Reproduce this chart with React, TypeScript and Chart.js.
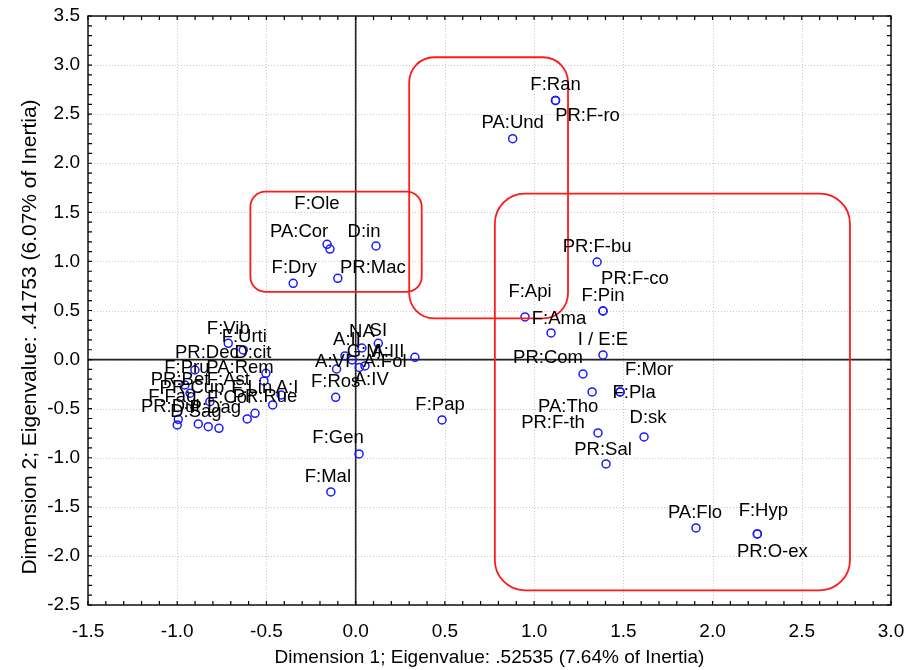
import React, { useEffect, useRef } from "react";
import { Chart, registerables } from "chart.js";

Chart.register(...registerables);

// ---- data ----
const POINT_NAMES = [
  "F:Ran", "PR:F-ro", "PA:Und",
  "PA:Cor", "F:Ole", "D:in", "F:Dry", "PR:Mac",
  "PR:F-bu", "F:Pin", "PR:F-co", "F:Api", "F:Ama", "I / E:E", "PR:Com",
  "PA:Tho", "F:Mor", "F:Pla", "PR:F-th", "D:sk", "PR:Sal",
  "PA:Flo", "F:Hyp", "PR:O-ex",
  "F:Pap", "F:Gen", "F:Mal", "F:Ros",
  "A:IV", "A:VI", "A:Fol", "SI", "NA", "A:II", "G:M", "A:III",
  "F:Vib", "F:Urti", "PR:Dec", "D:cit", "F:Pru", "PA:Rem", "PR:Bet", "F:Lin", "A:I",
  "PR:Rue", "F:Fag", "PR:Dul", "P:Dag", "F:Ast", "PR:Cup", "F:Cor", "D:Sag",
];
const DIM1 = [
  1.12, 1.12, 0.88,
  -0.16, -0.144, 0.114, -0.35, -0.10,
  1.353, 1.386, 1.386, 0.949, 1.095, 1.386, 1.274,
  1.325, 1.482, 1.482, 1.358, 1.616, 1.403,
  1.907, 2.251, 2.251,
  0.484, 0.019, -0.139, -0.112,
  0.02, -0.107, 0.052, 0.127, 0.035, -0.06, -0.02, 0.332,
  -0.714, -0.63, -0.901, -0.503, -0.957, -0.514, -0.928, -0.465, -0.418,
  -0.564, -0.994, -1.0, -0.826, -0.882, -0.766, -0.608, -0.817,
];
const DIM2 = [
  2.64, 2.64, 2.25,
  1.174, 1.126, 1.157, 0.777, 0.828,
  0.994, 0.495, 0.495, 0.434, 0.271, 0.047, -0.147,
  -0.33, -0.33, -0.33, -0.747, -0.788, -1.063,
  -1.715, -1.776, -1.776,
  -0.615, -0.961, -1.348, -0.384,
  -0.08, -0.096, -0.065, 0.166, 0.118, 0.037, -0.004, 0.023,
  0.166, 0.098, -0.106, -0.14, -0.259, -0.218, -0.343, -0.462, -0.36,
  -0.547, -0.608, -0.666, -0.683, -0.656, -0.7, -0.605, -0.429,
];

const X_TICKS = [-1.5, -1.0, -0.5, 0.0, 0.5, 1.0, 1.5, 2.0, 2.5, 3.0];
const Y_TICKS = [-2.5, -2.0, -1.5, -1.0, -0.5, 0.0, 0.5, 1.0, 1.5, 2.0, 2.5, 3.0, 3.5];
const X_TITLE = "Dimension 1; Eigenvalue: .52535 (7.64% of Inertia)";
const Y_TITLE = "Dimension 2; Eigenvalue: .41753 (6.07% of Inertia)";

// highlighted groups (data-space bounds)
const BOX_X0 = [-0.59, 0.3, 0.78];
const BOX_X1 = [0.37, 1.19, 2.77];
const BOX_Y0 = [0.69, 0.42, -2.35];
const BOX_Y1 = [1.71, 3.08, 1.69];

// ---- layout (label placement, pixels) ----
const LABEL_DX = [
  0, 32, 0,
  -28, -13, -12, 1, 35,
  0, 0, 32, 5, 8, 0, -35,
  -24, 29, 14, -45, 4, -3,
  -1, 6, 15,
  -2, -21, -3, 0,
  12, -4, 20, 0, 0, 2, 12, -27,
  0, 1, 12, -13, 2, -24, -10, -21, 6,
  10, -6, -7, 7, 30, -27, -17, -14,
];
const LABEL_DY = [
  -16, 15, -16,
  -12, -45, -14, -15, -10,
  -15, -15, -32, -25, -14, -15, -16,
  15, -22, 1, -10, -19, -14,
  -15, -23, 18,
  -15, -16, -15, -15,
  12, -7, -4, -12, -16, -16, -8, -5,
  -14, -13, -17, -20, -17, -13, -13, -17, -7,
  -16, -22, -18, -19, -44, -40, -21, 10,
];
const BOX_RADIUS = [15, 25, 30];
const FONT = '"Liberation Sans", Arial, sans-serif';

const decorPlugin = {
  id: "decor",
  beforeDatasetsDraw(chart: any) {
    const { ctx, chartArea: a, scales } = chart;
    const x = scales.x, y = scales.y;
    ctx.save();
    ctx.strokeStyle = "#c8c8c8";
    ctx.lineWidth = 1;
    ctx.setLineDash([1, 2]);
    X_TICKS.forEach((v) => {
      const px = Math.round(x.getPixelForValue(v)) + 0.5;
      ctx.beginPath(); ctx.moveTo(px, a.top); ctx.lineTo(px, a.bottom); ctx.stroke();
    });
    Y_TICKS.forEach((v) => {
      const py = Math.round(y.getPixelForValue(v)) + 0.5;
      ctx.beginPath(); ctx.moveTo(a.left, py); ctx.lineTo(a.right, py); ctx.stroke();
    });
    ctx.setLineDash([]);
    ctx.strokeStyle = "#222";
    ctx.lineWidth = 1.6;
    const x0 = x.getPixelForValue(0), y0 = y.getPixelForValue(0);
    ctx.beginPath(); ctx.moveTo(x0, a.top); ctx.lineTo(x0, a.bottom); ctx.stroke();
    ctx.beginPath(); ctx.moveTo(a.left, y0); ctx.lineTo(a.right, y0); ctx.stroke();
    ctx.restore();
  },
  afterDatasetsDraw(chart: any) {
    const { ctx, chartArea: a, scales } = chart;
    const x = scales.x, y = scales.y;
    ctx.save();
    // red boxes
    ctx.strokeStyle = "#ff1a1a";
    ctx.lineWidth = 1.8;
    for (let i = 0; i < BOX_X0.length; i++) {
      const l = x.getPixelForValue(BOX_X0[i]);
      const r = x.getPixelForValue(BOX_X1[i]);
      const t = y.getPixelForValue(BOX_Y1[i]);
      const b = y.getPixelForValue(BOX_Y0[i]);
      ctx.beginPath();
      (ctx as any).roundRect(l, t, r - l, b - t, BOX_RADIUS[i]);
      ctx.stroke();
    }
    // point labels
    const meta = chart.getDatasetMeta(0);
    ctx.fillStyle = "#000";
    ctx.font = "18.5px " + FONT;
    ctx.textAlign = "center";
    ctx.textBaseline = "middle";
    meta.data.forEach((el: any, i: number) => {
      ctx.fillText(POINT_NAMES[i], el.x + LABEL_DX[i], el.y + LABEL_DY[i]);
    });
    // frame
    ctx.strokeStyle = "#000";
    ctx.lineWidth = 1.4;
    ctx.strokeRect(a.left, a.top, a.right - a.left, a.bottom - a.top);
    // minor ticks (inward, all sides)
    ctx.lineWidth = 1.2;
    const tl = 4;
    for (let i = -15; i <= 30; i++) {
      const px = x.getPixelForValue(i / 10);
      ctx.beginPath();
      ctx.moveTo(px, a.bottom); ctx.lineTo(px, a.bottom - tl);
      ctx.moveTo(px, a.top); ctx.lineTo(px, a.top + tl);
      ctx.stroke();
    }
    for (let i = -25; i <= 35; i++) {
      const py = y.getPixelForValue(i / 10);
      ctx.beginPath();
      ctx.moveTo(a.left, py); ctx.lineTo(a.left + tl, py);
      ctx.moveTo(a.right, py); ctx.lineTo(a.right - tl, py);
      ctx.stroke();
    }
    ctx.restore();
  },
  afterDraw(chart: any) {
    const { ctx } = chart;
    ctx.save();
    ctx.fillStyle = "#000";
    ctx.font = "21px " + FONT;
    ctx.textAlign = "center";
    ctx.textBaseline = "middle";
    ctx.translate(30, 337);
    ctx.rotate(-Math.PI / 2);
    ctx.fillText(Y_TITLE, 0, 0);
    ctx.restore();
  },
};

export default function App() {
  const ref = useRef<HTMLCanvasElement | null>(null);
  useEffect(() => {
    if (!ref.current) return;
    const points = DIM1.map((v, i) => ({ x: v, y: DIM2[i] }));
    const chart = new Chart(ref.current, {
      type: "scatter",
      data: {
        datasets: [
          {
            label: "Coordinates",
            data: points,
            pointStyle: "circle",
            pointRadius: 4,
            pointBorderWidth: 1.5,
            pointBorderColor: "#1a1aff",
            pointBackgroundColor: "rgba(0,0,0,0)",
          },
        ],
      },
      options: {
        responsive: false,
        animation: false,
        layout: { padding: { top: 16, right: 25, left: 0, bottom: 0 } },
        plugins: { legend: { display: false }, tooltip: { enabled: false } },
        scales: {
          x: {
            type: "linear",
            min: -1.5,
            max: 3.0,
            afterBuildTicks: (s: any) => { s.ticks = X_TICKS.map((v) => ({ value: v })); },
            afterFit: (s: any) => { s.height = 65; s.paddingLeft = 0; s.paddingRight = 0; },
            grid: { display: false, drawTicks: false },
            border: { display: false },
            ticks: {
              padding: 15,
              color: "#000",
              font: { family: FONT, size: 19 },
              callback: (v: any) => Number(v).toFixed(1),
            },
            title: {
              display: true,
              text: X_TITLE,
              color: "#000",
              font: { family: FONT, size: 19 },
              padding: { top: 0, bottom: 1 },
            },
          },
          y: {
            type: "linear",
            min: -2.5,
            max: 3.5,
            afterBuildTicks: (s: any) => { s.ticks = Y_TICKS.map((v) => ({ value: v })); },
            afterFit: (s: any) => { s.width = 88; s.paddingTop = 0; s.paddingBottom = 0; },
            grid: { display: false, drawTicks: false },
            border: { display: false },
            ticks: {
              padding: 8,
              color: "#000",
              font: { family: FONT, size: 19 },
              callback: (v: any) => Number(v).toFixed(1),
            },
            title: { display: false },
          },
        },
      },
      plugins: [decorPlugin],
    });
    return () => chart.destroy();
  }, []);
  return (
    <div style={{ position: "absolute", left: 0, top: 0, width: 916, height: 670, background: "#fff" }}>
      <canvas ref={ref} width={916} height={670} style={{ display: "block", width: 916, height: 670 }} />
    </div>
  );
}
